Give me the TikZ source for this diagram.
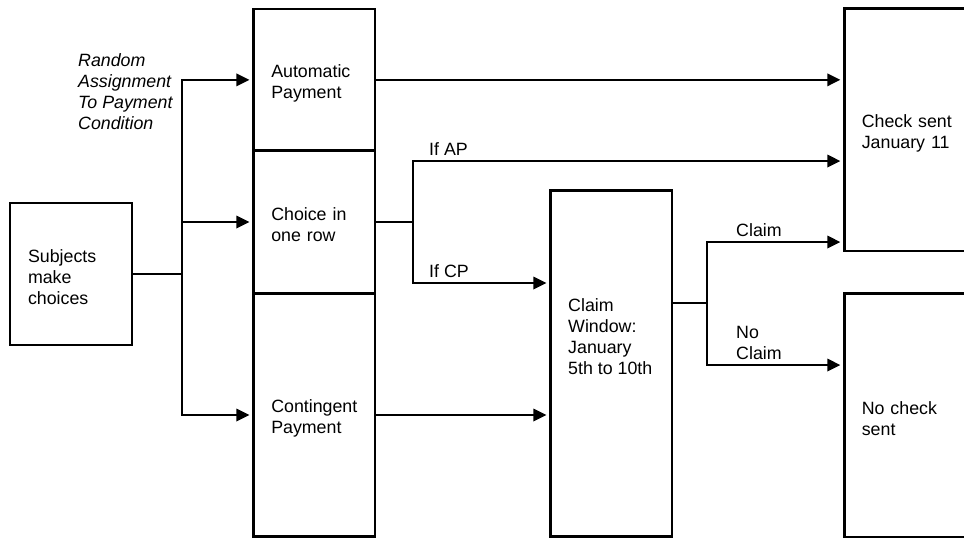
\documentclass[tikz,border=0pt]{standalone}
\usepackage{fontspec}
\setmainfont{Liberation Sans}
\usetikzlibrary{arrows.meta, positioning}
\newcommand{\flowfont}{\fontsize{17.8}{21}\selectfont}
\tikzset{stage/.style={draw, rectangle, line width=2.6pt, minimum width=121.7pt,
        text width=86pt, align=left, inner xsep=0pt, inner ysep=0pt, outer sep=0pt,
        font=\flowfont, execute at begin node={\rule{0pt}{19pt}}},
    wide stage/.style={stage, minimum width=150pt, text width=115pt},
    flow/.style={draw, line width=1.8pt, shorten >=4pt,
        -{Triangle[length=13pt,width=12.5pt]}},
    link/.style={draw, line width=1.8pt},
    tag/.style={inner sep=0pt, align=left, font=\flowfont}}

\begin{document}
\begin{tikzpicture}[x=1pt, y=-1pt]
    \useasboundingbox (0,0) rectangle (964,539);

    % Stages
    \node[stage, minimum height=141.7pt] (subj) at (71,274) {Subjects\\make\\choices};
    \node[stage, minimum height=141.7pt] (ap) at (314.25,79.85) {Automatic\\Payment};
    \node[stage, minimum height=142.6pt, below=0pt of ap] (cir) {Choice in\\one row};
    \node[stage, minimum height=243.4pt, below=0pt of cir] (cp) {Contingent\\Payment};
    \node[stage, minimum height=346.4pt] (cw) at (611.2,363.5) {};
    \node[tag, anchor=west] (cwtext) at (568,337) {Claim\\Window:\\January\\5th to 10th};
    \node[wide stage, minimum height=242.3pt] (cs) at (919.3,129.85) {Check sent\\January 11};
    \node[wide stage, minimum height=243.3pt] (ncs) at (919.3,415.35) {No check\\sent};

    % Random assignment
    \coordinate (trunk) at (182,0);
    \node[tag, anchor=north west, font=\flowfont\itshape] (rand) at (78,53.4)
        {Random\\Assignment\\To Payment\\Condition};
    \draw[link] (subj.east) -- (trunk |- subj.east);
    \draw[flow] (trunk |- cp.west) -- (trunk |- ap.west) -- (ap.west);
    \draw[flow] (trunk |- ap.west) -- (trunk |- cp.west) -- (cp.west);
    \draw[flow] (trunk |- cir.west) -- (cir.west);

    % Payment routes
    \draw[flow] (ap.east) -- (cs.west |- ap.east);
    \draw[flow] (cp.east) -- (cw.west |- cp.east);
    \coordinate (ifap) at (413,161);
    \coordinate (ifcp) at (413,283);
    \draw[link] (cir.east) -- (cir.east -| ifap);
    \draw[flow] (ifcp) -- (ifap) -- (cs.west |- ifap);
    \draw[flow] (ifap) -- (ifcp) -- (cw.west |- ifcp);
    \node[tag, anchor=south west] (aptag) at ([xshift=16pt,yshift=5pt]ifap) {If AP};
    \node[tag, anchor=south west] (cptag) at ([xshift=16pt,yshift=5pt]ifcp) {If CP};

    % Claim decision
    \coordinate (split) at (707,303);
    \coordinate (yes) at (707,242);
    \coordinate (no) at (707,365);
    \draw[link] (split -| cw.east) -- (split);
    \draw[flow] (no) -- (yes) -- (cs.west |- yes);
    \draw[flow] (yes) -- (no) -- (ncs.west |- no);
    \node[tag, anchor=south west] (yestag) at ([xshift=29pt,yshift=5pt]yes) {Claim};
    \node[tag, anchor=south west] (notag) at ([xshift=29pt,yshift=5pt]no) {No\\Claim};
\end{tikzpicture}
\end{document}
